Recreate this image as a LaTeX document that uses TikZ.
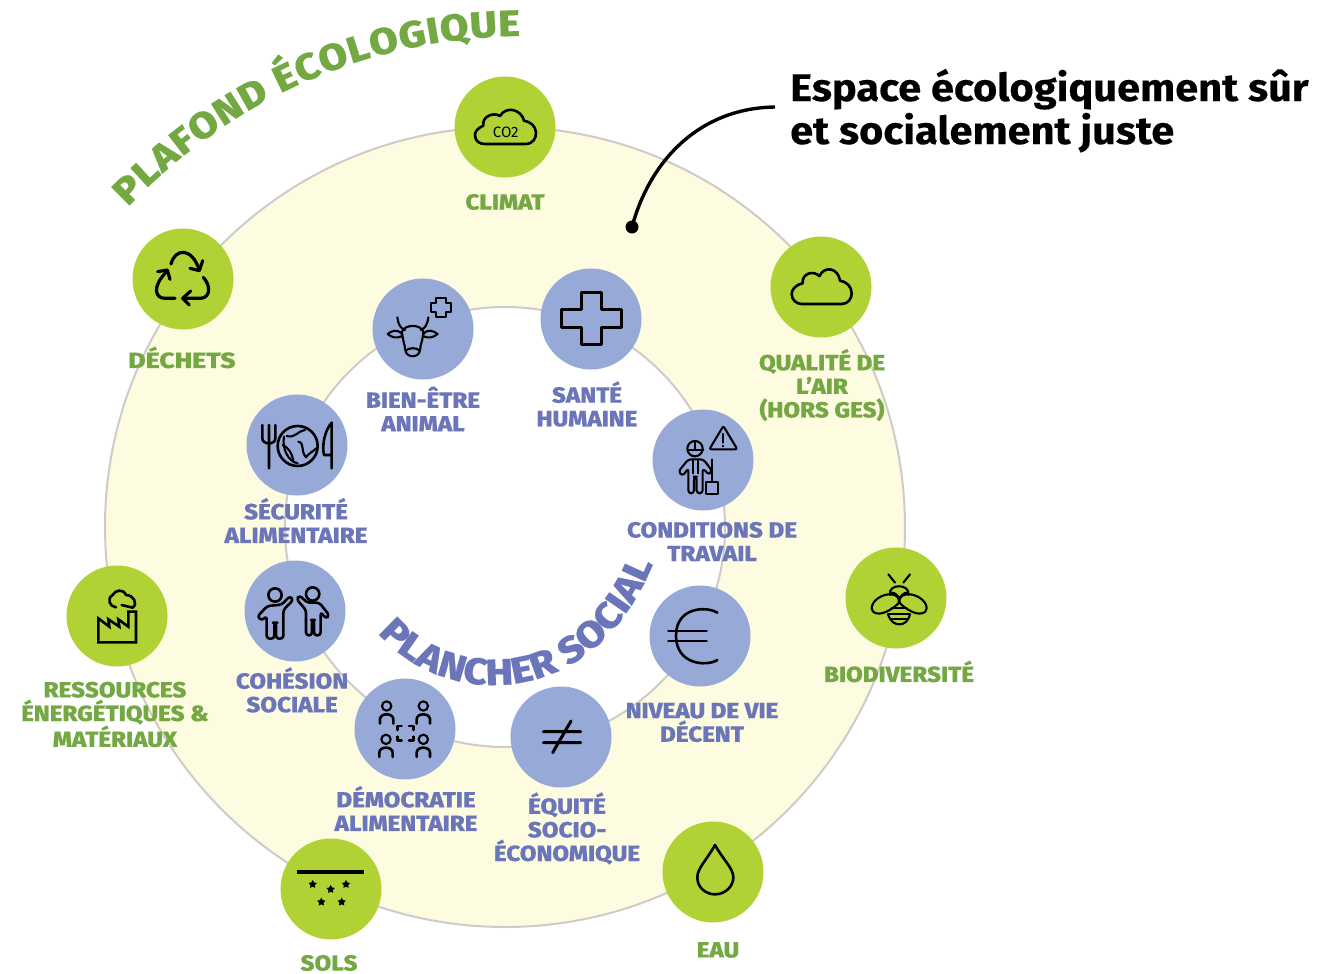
\documentclass[tikz,border=0pt]{standalone}
\usepackage{fontspec}
\usetikzlibrary{decorations.text}
\setmainfont{Fira Sans}
\newfontfamily\labfont[FakeStretch=1.1,FakeBold=0.25]{Fira Sans ExtraBold}
\newfontfamily\curvefont[FakeStretch=1.12,FakeBold=0.4]{Fira Sans ExtraBold}
\newfontfamily\headfont[FakeStretch=1.08,FakeBold=0.3]{Fira Sans Bold}
\definecolor{ringfill}{HTML}{FDFBE0}
\definecolor{ringedge}{HTML}{CFCBC8}
\definecolor{gdisc}{HTML}{B0D235}
\definecolor{bdisc}{HTML}{97A9D6}
\definecolor{gtext}{HTML}{74A843}
\definecolor{btext}{HTML}{6B75BA}
\newcommand{\starat}[2]{\fill[black,shift={(#1,#2)}] (-90:13)--(-54:7)--(-18:13)--(18:7)--(54:13)--(90:7)--(126:13)--(162:7)--(198:13)--(234:7)--cycle;}
\tikzset{
  disc/.style={circle,minimum size=101pt,inner sep=0pt,draw=none},
  gdiscnode/.style={disc,fill=gdisc},
  bdiscnode/.style={disc,fill=bdisc},
  lab/.style={font=\labfont\fontsize{22}{23.6}\selectfont,align=center,inner sep=0pt},
  glab/.style={lab,text=gtext},
  blab/.style={lab,text=btext},
  ic/.style={draw=black,line width=2.6pt,line join=round,line cap=round},
  icthin/.style={draw=black,line width=2.1pt,line join=round,line cap=round},
  zoomed/.style={shift={#1},scale=1/3},
}
\begin{document}
\begin{tikzpicture}[x=1pt,y=-1pt]
\useasboundingbox (0,0) rectangle (1342,974);
% rings
\fill[ringfill,draw=ringedge,line width=2pt] (505,527) circle[radius=400];
\fill[white,draw=ringedge,line width=2pt] (505,527) circle[radius=220];
% curved titles
\path[decorate,decoration={text along path,text align={fit to path},
  text={|\curvefont\fontsize{37}{37}\selectfont\color{gtext}|PLAFOND ÉCOLOGIQUE}}]
  (128,207) .. controls (235,95) and (375,37) .. (520,36);
\path[decorate,decoration={text along path,text align={fit to path},
  text={|\curvefont\fontsize{37}{37}\selectfont\color{btext}|PLANCHER SOCIAL}}]
  (378,633) .. controls (440,707) and (590,717) .. (653,564);
% connector
\coordinate (dotpt) at (632,227);
\coordinate (headpt) at (775,107);
\fill[black] (dotpt) circle[radius=6.5];
\draw[black,line width=3.4pt] (dotpt) .. controls (650,160) and (700,108) .. (headpt);
% heading
\node[anchor=base west,inner sep=0pt,font=\headfont\fontsize{38.5}{43}\selectfont] (head1) at (790,101) {Espace écologiquement sûr};
\node[anchor=base west,inner sep=0pt,font=\headfont\fontsize{38.5}{43}\selectfont] (head2) at (790,144) {et socialement juste};
% discs
\node[gdiscnode] (climat) at (505,127) {};
\node[gdiscnode] (dechets) at (183,279) {};
\node[gdiscnode] (air) at (821,287) {};
\node[gdiscnode] (bio) at (896,598) {};
\node[gdiscnode] (eau) at (713,872) {};
\node[gdiscnode] (sols) at (331,889) {};
\node[gdiscnode] (ress) at (117,616) {};
\node[bdiscnode] (bien) at (423,329) {};
\node[bdiscnode] (sante) at (591,319) {};
\node[bdiscnode] (cond) at (703,460) {};
\node[bdiscnode] (niveau) at (700,636) {};
\node[bdiscnode] (equite) at (561,737) {};
\node[bdiscnode] (demo) at (405,729) {};
\node[bdiscnode] (cohes) at (295,611) {};
\node[bdiscnode] (secu) at (297,445) {};
% labels
\node[glab] (lclimat) at (505,202) {CLIMAT};
\node[glab,xscale=1.1,transform shape] (ldechets) at (182,357.5) {DÉCHETS};
\node[glab] (lair) at (822,385) {QUALITÉ DE\\L’AIR\\(HORS GES)};
\node[glab] (lbio) at (899,671.5) {BIODIVERSITÉ};
\node[glab] (leau) at (718,950) {EAU};
\node[glab] (lsols) at (329,963) {SOLS};
\node[glab] (lress) at (115,714.5) {RESSOURCES\\ÉNERGÉTIQUES \&\\MATÉRIAUX};
\node[blab] (lbien) at (423,409) {BIEN-ÊTRE\\ANIMAL};
\node[blab] (lsante) at (587,404) {SANTÉ\\HUMAINE};
\node[blab] (lcond) at (712,541.5) {CONDITIONS DE\\TRAVAIL};
\node[blab] (lniveau) at (702,722.5) {NIVEAU DE VIE\\DÉCENT};
\node[blab] (lequite) at (567,828.5) {ÉQUITÉ\\SOCIO-\\ÉCONOMIQUE};
\node[blab] (ldemo) at (406,808.5) {DÉMOCRATIE\\ALIMENTAIRE};
\node[blab] (lcohes) at (292,690) {COHÉSION\\SOCIALE};
\node[blab] (lsecu) at (296,520.5) {SÉCURITÉ\\ALIMENTAIRE};
% icons: zoom 1 frame
\begin{scope}[zoomed={(360,260)}]
  \draw[ic] (605,148) -- (665,148) -- (665,97) -- (725,97) -- (725,148) -- (785,148) -- (785,203) -- (725,203) -- (725,253) -- (665,253) -- (665,203) -- (605,203) -- cycle;
  \draw[icthin] (213,130) -- (228,130) -- (228,113) -- (258,113) -- (258,130) -- (273,130) -- (273,155) -- (258,155) -- (258,170) -- (228,170) -- (228,155) -- (213,155) -- cycle;
  % cow
  \draw[icthin] (112,172) .. controls (115,195) and (122,205) .. (135,210);
  \draw[icthin] (205,172) .. controls (202,195) and (195,205) .. (182,210);
  \draw[icthin] (126,215) .. controls (135,192) and (182,192) .. (190,215) .. controls (190,235) and (182,250) .. (180,270) .. controls (178,295) and (138,295) .. (136,270) .. controls (134,250) and (126,235) .. (126,215) -- cycle;
  \draw[icthin] (126,222) .. controls (110,205) and (95,213) .. (83,222) .. controls (95,233) and (110,236) .. (128,228);
  \draw[icthin] (190,222) .. controls (205,205) and (220,213) .. (233,222) .. controls (220,233) and (205,236) .. (188,228);
  \draw[icthin] (137,272) .. controls (150,262) and (168,262) .. (179,272);
  % worker
  \draw[icthin] (1005,566) circle[radius=23];
  \draw[icthin] (982,570) -- (1030,570) (1005,543) -- (1005,570);
  \draw[icthin,rounded corners=3pt] (985,598) -- (955,635) -- (968,648) -- (985,625) -- (985,700) -- (1002,700) -- (1002,650) -- (1010,650) -- (1010,700) -- (1028,700) -- (1028,625) -- (1048,645) -- (1056,632) -- (1030,598) -- cycle;
  \draw[icthin] (1000,598) -- (1000,640) (1015,598) -- (1015,640);
  \draw[icthin] (1055,598) -- (1055,665);
  \draw[icthin] (1037,665) -- (1075,665) -- (1075,702) -- (1037,702) -- cycle;
  \draw[icthin,rounded corners=2pt] (1090,498) -- (1132,568) -- (1048,568) -- cycle;
  \draw[icthin] (1090,522) -- (1090,548) (1090,557) -- (1090,559);
\end{scope}
% zoom 2 frame
\begin{scope}[zoomed={(230,380)}]
  % fork, globe, knife
  \draw[ic] (97,135) -- (97,175) .. controls (97,195) and (137,195) .. (136,175) -- (136,135) (117,135) -- (117,265);
  \draw[ic] (203,198) circle[radius=60];
  \draw[icthin] (162,170) .. controls (155,205) and (175,245) .. (203,250);
  \draw[icthin] (170,168) .. controls (195,175) and (200,155) .. (225,150);
  \draw[icthin] (158,195) .. controls (178,205) and (185,220) .. (190,240);
  \draw[icthin] (205,185) .. controls (225,190) and (210,210) .. (228,232) .. controls (235,220) and (250,215) .. (258,205);
  \draw[ic] (305,265) -- (305,128) .. controls (285,150) and (275,195) .. (282,225) -- (305,225);
  % people
  \draw[ic] (135,645) circle[radius=20];
  \draw[ic] (248,642) circle[radius=20];
  \draw[ic,rounded corners=3pt] (180,648) -- (155,674) -- (112,678) -- (82,710) -- (95,722) -- (110,708) -- (110,776) -- (133,776) -- (133,728) -- (138,728) -- (138,776) -- (160,776) -- (160,690) -- (190,660) -- cycle;
  \draw[ic,rounded corners=3pt] (208,646) -- (232,668) -- (268,668) -- (298,706) -- (288,716) -- (272,696) -- (272,766) -- (252,766) -- (252,720) -- (246,720) -- (246,766) -- (228,766) -- (228,690) -- (200,658) -- cycle;
  % democracy
  \foreach \px/\py in {470/978,580/978,468/1078,580/1078}{
    \draw[icthin] (\px,\py) circle[radius=14];
    \draw[ic] ({\px-20},{\py+53}) -- ({\px-20},{\py+40}) .. controls ({\px-20},{\py+20}) and ({\px+20},{\py+20}) .. ({\px+20},{\py+40}) -- ({\px+20},{\py+53});
  }
  \draw[ic] (502,1050) -- (502,1038) -- (515,1038) (537,1038) -- (550,1038) -- (550,1050) (550,1070) -- (550,1082) -- (537,1082) (515,1082) -- (502,1082) -- (502,1070);
\end{scope}
% zoom 3 frame
\begin{scope}[zoomed={(500,570)}]
  \draw[ic] (652,128) .. controls (620,108) and (528,110) .. (528,197) .. controls (528,285) and (620,290) .. (652,270);
  \draw[ic] (505,183) -- (620,183) (505,213) -- (620,213);
  \draw[ic,line width=3pt] (130,485) -- (242,485) (130,518) -- (242,518) (213,453) -- (158,548);
\end{scope}
% zoom 4 frame
\begin{scope}[zoomed={(60,60)}]
  \draw[ic] (1275,252) -- (1395,252) .. controls (1420,252) and (1428,235) .. (1428,218) .. controls (1428,198) and (1410,185) .. (1392,182) .. controls (1385,150) and (1340,135) .. (1320,168) .. controls (1300,155) and (1265,170) .. (1270,197) .. controls (1252,205) and (1245,215) .. (1245,225) .. controls (1245,245) and (1260,252) .. (1275,252) -- cycle;
  \node[inner sep=0pt,font=\fontsize{15}{15}\selectfont] (co2) at (1337,216) {CO2};
  % recycle
  \draw[ic,line width=3.2pt] (333,612) .. controls (345,565) and (395,560) .. (418,630);
  \draw[ic,line width=3.2pt] (428,602) -- (418,632) -- (390,625);
  \draw[ic,line width=3.2pt] (430,652) .. controls (455,680) and (450,715) .. (420,715) -- (370,715);
  \draw[ic,line width=3.2pt] (392,693) -- (368,715) -- (388,735);
  \draw[ic,line width=3.2pt] (345,715) -- (315,715) .. controls (285,715) and (275,680) .. (320,635);
  \draw[ic,line width=3.2pt] (293,635) -- (322,630) -- (330,658);
\end{scope}
% zoom 5 frame
\begin{scope}[zoomed={(60,560)}]
  \draw[ic,line join=miter] (115,175) -- (115,247) -- (228,247) -- (228,155) -- (205,155) -- (205,200) -- (175,178) -- (178,200) -- (145,178) -- (148,200) -- cycle;
  \draw[ic] (168,142) .. controls (148,140) and (140,115) .. (158,105) .. controls (165,90) and (190,85) .. (198,105) .. controls (220,105) and (235,130) .. (218,143) -- (185,135);
  \draw[black,line width=3.8pt] (712,935) -- (913,935);
  \starat{758}{973}\starat{812}{988}\starat{858}{973}\starat{784}{1026}\starat{845}{1026}
\end{scope}
% zoom 6 frame
\begin{scope}[zoomed={(760,230)}]
  \draw[ic] (125,222) -- (245,222) .. controls (265,222) and (275,205) .. (275,190) .. controls (275,170) and (260,155) .. (240,152) .. controls (235,115) and (195,105) .. (178,138) .. controls (160,120) and (125,130) .. (128,160) .. controls (105,165) and (95,180) .. (95,192) .. controls (95,210) and (110,222) .. (125,222) -- cycle;
\end{scope}
% zoom 7 frame
\begin{scope}[zoomed={(650,540)}]
  \draw[icthin] (735,128) -- (715,103) (760,128) -- (780,103);
  \draw[icthin] (720,165) .. controls (712,130) and (782,130) .. (775,165);
  \draw[icthin] (722,158) .. controls (735,155) and (745,170) .. (748,175) .. controls (752,170) and (762,155) .. (774,158);
  \draw[icthin] (665,205) .. controls (665,180) and (700,160) .. (725,163) .. controls (745,165) and (750,180) .. (745,190) .. controls (730,205) and (700,225) .. (680,220) .. controls (670,218) and (665,212) .. (665,205) -- cycle;
  \draw[icthin] (830,205) .. controls (830,180) and (795,160) .. (770,163) .. controls (750,165) and (745,180) .. (750,190) .. controls (765,205) and (795,225) .. (815,220) .. controls (825,218) and (830,212) .. (830,205) -- cycle;
  \draw[icthin] (714,222) .. controls (720,245) and (735,253) .. (748,253) .. controls (762,253) and (775,245) .. (780,222);
  \draw[icthin] (725,205) -- (770,205) (716,222) -- (778,222) (722,238) -- (774,238);
  \draw[ic] (195,915) .. controls (170,960) and (142,985) .. (142,1012) .. controls (142,1045) and (170,1063) .. (195,1063) .. controls (225,1063) and (250,1040) .. (250,1012) .. controls (250,985) and (220,960) .. (195,915) -- cycle;
\end{scope}
\end{tikzpicture}
\end{document}
